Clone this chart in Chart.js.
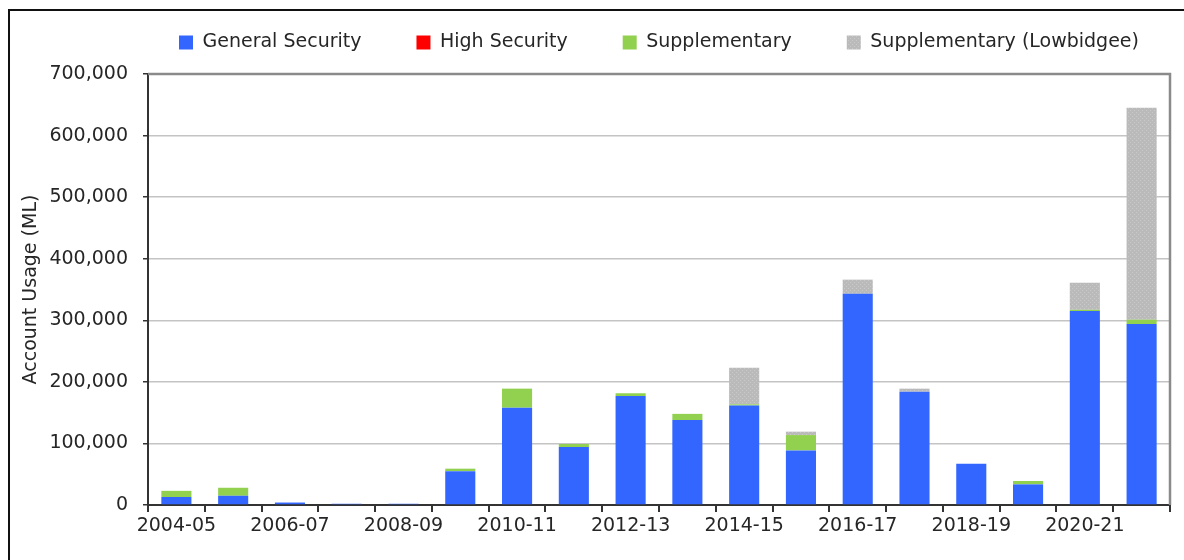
<!DOCTYPE html>
<html>
<head>
<meta charset="utf-8">
<script src="https://cdn.jsdelivr.net/npm/chart.js@4"></script>
<style>
    html, body { margin: 0; padding: 0; background: #fff; overflow: hidden; }
    .frame { position: absolute; left: 8px; top: 9px; width: 1400px; height: 800px; border: 2px solid #111; }
    .chart-box { position: absolute; left: 0; top: 0; width: 1184px; height: 560px; }
</style>
</head>
<body>
<div class="frame"></div>
<div class="chart-box"><canvas id="usageChart"></canvas></div>
<script>
// Water year account usage, ML
const years = ['2004-05', '2005-06', '2006-07', '2007-08', '2008-09', '2009-10', '2010-11', '2011-12', '2012-13',
    '2013-14', '2014-15', '2015-16', '2016-17', '2017-18', '2018-19', '2019-20', '2020-21', '2021-22'];
const generalSecurity = [13000, 15000, 4000, 2000, 2000, 55000, 158000, 94000, 177000, 138000, 161500, 88600, 343000, 184000, 67000, 33500, 315000, 294000];
const highSecurity = [0, 0, 0, 0, 0, 0, 0, 0, 0, 0, 0, 0, 0, 0, 0, 0, 0, 0];
const supplementary = [10000, 13000, 0, 0, 0, 4000, 31000, 5000, 4500, 10000, 2000, 25000, 0, 0, 0, 5500, 2000, 7000];
const lowbidgee = [0, 0, 0, 0, 0, 0, 0, 0, 0, 0, 59500, 5500, 23000, 5000, 0, 0, 44000, 344000];

const yMax = 700000;
const yStep = 100000;

const fontFamily = '"DejaVu Sans", Verdana, sans-serif';
const textColor = '#262626';

// speckled grey fill used for the Lowbidgee series
const stipple = () => {
    const c = document.createElement('canvas');
    c.width = c.height = 4;
    const g = c.getContext('2d');
    g.fillStyle = '#bababa';
    g.fillRect(0, 0, 4, 4);
    g.fillStyle = '#c9c9c9';
    g.fillRect(0, 0, 1, 1);
    g.fillRect(2, 2, 1, 1);
    return g.createPattern(c, 'repeat');
};

// keep all legend entries on one row with wide gaps, centred over the plot
const legendRow = {
    id: 'legendRow',
    beforeInit(chart) {
        const legend = chart.legend;
        const fit = legend.fit;
        const draw = legend.draw;
        const extra = 1000;
        legend.fit = function () {
            const w = this.maxWidth;
            this.maxWidth = w + extra;
            fit.call(this);
            this.maxWidth = w;
            this.width = w;
            this.height = 96;
        };
        legend.draw = function () {
            this.left -= extra;
            this.right += extra;
            draw.call(this);
            this.left += extra;
            this.right -= extra;
        };
    }
};

// grey frame on top and right of the plot area
const plotFrame = {
    id: 'plotFrame',
    afterDraw(chart) {
        const { ctx, chartArea: a } = chart;
        ctx.save();
        ctx.strokeStyle = '#8a8a8a';
        ctx.lineWidth = 2.5;
        ctx.beginPath();
        ctx.moveTo(a.left, a.top);
        ctx.lineTo(a.right, a.top);
        ctx.lineTo(a.right, a.bottom);
        ctx.stroke();
        ctx.restore();
    }
};

const series = (label, data, color) => ({
    label: label,
    data: data,
    backgroundColor: color,
    borderWidth: 0,
    categoryPercentage: 1,
    barPercentage: 0.53
});

Chart.defaults.font.family = fontFamily;
Chart.defaults.color = textColor;

new Chart(document.getElementById('usageChart'), {
    type: 'bar',
    data: {
        labels: years,
        datasets: [
            series('General Security', generalSecurity, '#3366ff'),
            series('High Security', highSecurity, '#ff0000'),
            series('Supplementary', supplementary, '#92d050'),
            series('Supplementary (Lowbidgee)', lowbidgee, stipple())
        ]
    },
    options: {
        responsive: true,
        maintainAspectRatio: false,
        animation: false,
        layout: { padding: { left: 14, right: 14, top: -22, bottom: 0 } },
        plugins: {
            tooltip: { enabled: false },
            legend: {
                position: 'top',
                fullSize: false,
                labels: {
                    boxWidth: 14,
                    boxHeight: 14,
                    padding: 55,
                    font: { size: 19 },
                    color: textColor
                }
            }
        },
        scales: {
            x: {
                stacked: true,
                offset: true,
                afterFit: (s) => { s.height = 55; },
                grid: { offset: true, drawOnChartArea: false, tickLength: 7, tickColor: '#333', lineWidth: 2 },
                border: { color: '#333', width: 2 },
                ticks: {
                    autoSkip: false,
                    maxRotation: 0,
                    padding: 3,
                    font: { size: 19 },
                    callback: (v, i) => (i % 2 === 0 ? years[i] : '')
                }
            },
            y: {
                stacked: true,
                min: 0,
                max: yMax,
                afterFit: (s) => { s.width = 134; },
                grid: { color: '#c4c4c4', lineWidth: 1.5, tickLength: 5, tickColor: '#333' },
                border: { color: '#333', width: 2 },
                ticks: {
                    stepSize: yStep,
                    padding: 15,
                    font: { size: 19 },
                    callback: (v) => v.toLocaleString('en-US')
                },
                title: {
                    display: true,
                    text: 'Account Usage (ML)',
                    font: { size: 19 },
                    padding: { top: 6, bottom: 2 }
                }
            }
        }
    },
    plugins: [legendRow, plotFrame]
});
</script>
</body>
</html>
